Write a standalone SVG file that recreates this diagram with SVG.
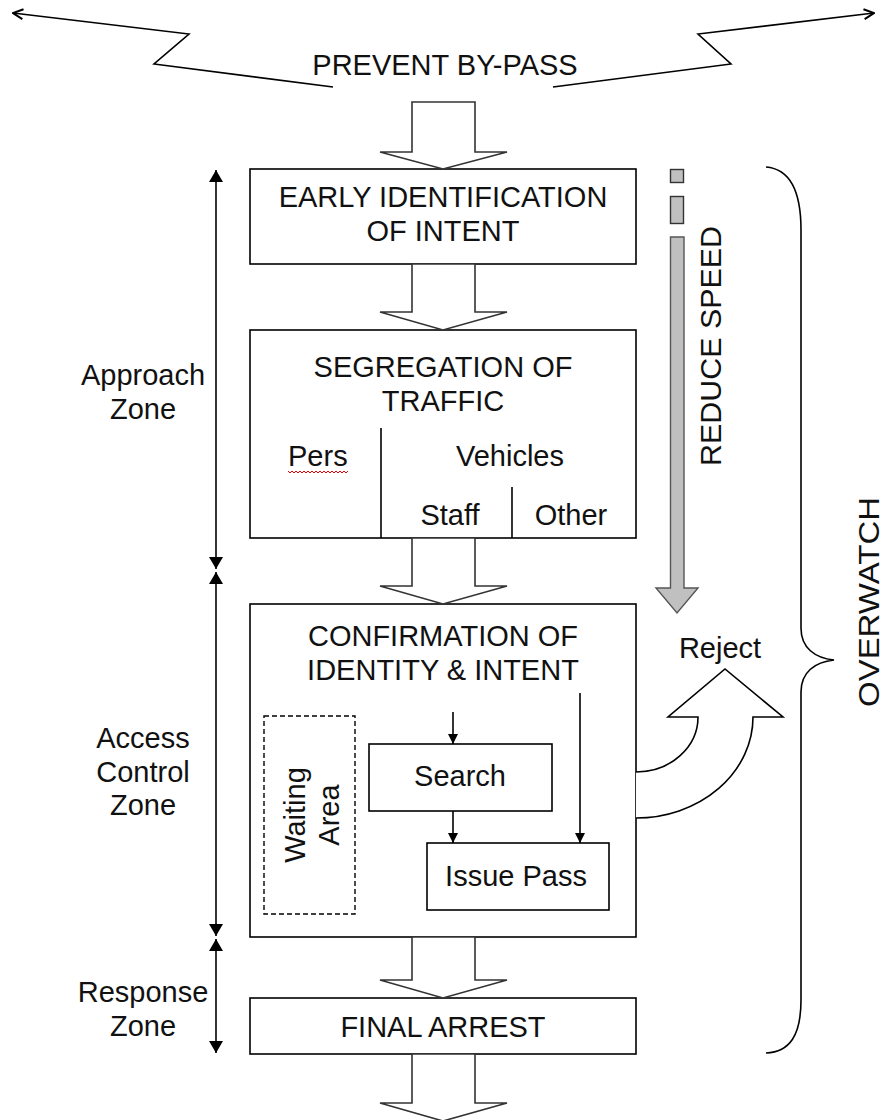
<svg xmlns="http://www.w3.org/2000/svg" width="885" height="1120" viewBox="0 0 885 1120">
<defs>
<style>
text{font-family:"Liberation Sans",Arial,sans-serif;font-size:29px;fill:#111}
.c{text-anchor:middle}
.box{fill:#fff;stroke:#000;stroke-width:1.6}
.blk{fill:#fff;stroke:#333;stroke-width:1.6;stroke-linejoin:miter}
.ln{fill:none;stroke:#000;stroke-width:1.6}
</style>
<marker id="tri" viewBox="0 0 12 14" refX="12" refY="7" markerWidth="12" markerHeight="14" markerUnits="userSpaceOnUse" orient="auto">
<path d="M0,0 L12,7 L0,14 Z" fill="#000"/>
</marker>
<marker id="sm" viewBox="0 0 10 10" refX="10" refY="5" markerWidth="10" markerHeight="10" markerUnits="userSpaceOnUse" orient="auto">
<path d="M0,0 L10,5 L0,10 Z" fill="#000"/>
</marker>
<marker id="open" viewBox="0 0 12 12" refX="11" refY="6" markerWidth="12" markerHeight="12" markerUnits="userSpaceOnUse" orient="auto">
<path d="M1,1 L11,6 L1,11" fill="none" stroke="#000" stroke-width="2"/>
</marker>
</defs>
<rect width="885" height="1120" fill="#fff"/>

<g id="prevent-bypass">
<polyline class="ln" points="333,87 154,64 189,34 13,13" marker-end="url(#open)"/>
<polyline class="ln" points="553,87 731,64 698,34 874,13" marker-end="url(#open)"/>
<text class="c" x="445" y="75">PREVENT BY-PASS</text>
</g>

<g id="early-identification">
<rect class="box" x="250" y="169" width="386" height="95"/>
<text class="c" x="443" y="207">EARLY IDENTIFICATION</text>
<text class="c" x="443" y="241">OF INTENT</text>
</g>

<g id="segregation">
<rect class="box" x="250" y="330" width="386" height="208"/>
<text class="c" x="443" y="377">SEGREGATION OF</text>
<text class="c" x="443" y="411">TRAFFIC</text>
<line class="ln" x1="381" y1="428" x2="381" y2="538"/>
<line class="ln" x1="512" y1="487" x2="512" y2="538"/>
<text x="288" y="466">Pers</text>
<path d="M288,471 l2,2 l2,-2 l2,2 l2,-2 l2,2 l2,-2 l2,2 l2,-2 l2,2 l2,-2 l2,2 l2,-2 l2,2 l2,-2 l2,2 l2,-2 l2,2 l2,-2 l2,2 l2,-2 l2,2 l2,-2 l2,2 l2,-2 l2,2 l2,-2 l2,2 l2,-2 l2,2 l2,-2" fill="none" stroke="#e00" stroke-width="1"/>
<text class="c" x="510" y="466">Vehicles</text>
<text class="c" x="450" y="525">Staff</text>
<text class="c" x="571" y="525">Other</text>
</g>

<g id="confirmation">
<rect class="box" x="250" y="604" width="386" height="333"/>
<text class="c" x="443" y="646">CONFIRMATION OF</text>
<text class="c" x="443" y="680">IDENTITY &amp; INTENT</text>
</g>

<g id="waiting-area">
<rect x="264" y="716" width="91" height="198" fill="#fff" stroke="#000" stroke-width="1.4" stroke-dasharray="5,3"/>
<text class="c" transform="translate(305,815) rotate(-90)">Waiting</text>
<text class="c" transform="translate(339,815) rotate(-90)">Area</text>
</g>

<g id="search">
<rect class="box" x="369" y="744" width="183" height="67"/>
<text class="c" x="460" y="786">Search</text>
</g>

<g id="issue-pass">
<rect class="box" x="427" y="843" width="182" height="67"/>
<text class="c" x="516" y="886">Issue Pass</text>
</g>

<g id="final-arrest">
<rect class="box" x="250" y="998" width="386" height="56"/>
<text class="c" x="443" y="1037">FINAL ARREST</text>
</g>

<g id="zone-labels">
<text class="c" x="143" y="385">Approach</text>
<text class="c" x="143" y="419">Zone</text>
<text class="c" x="143" y="748">Access</text>
<text class="c" x="143" y="782">Control</text>
<text class="c" x="143" y="815">Zone</text>
<text class="c" x="143" y="1002">Response</text>
<text class="c" x="143" y="1036">Zone</text>
</g>

<g id="reduce-speed">
<rect x="670.5" y="169.5" width="13" height="13" fill="#c0c0c0" stroke="#333" stroke-width="1.4"/>
<rect x="670.5" y="196.5" width="13" height="27" fill="#c0c0c0" stroke="#333" stroke-width="1.4"/>
<path d="M670.5,237 H684 V588 H698 L677,613 L656,588 H670.5 Z" fill="#c0c0c0" stroke="#555" stroke-width="1.4"/>
<text class="c" transform="translate(721,346) rotate(-90)" textLength="240" lengthAdjust="spacingAndGlyphs">REDUCE SPEED</text>
</g>

<g id="reject">
<path d="M636,772 A62,55 0 0 0 698,717 H668 L725,669 L783,717 H753 A117,101 0 0 1 636,818" fill="#fff" stroke="#000" stroke-width="1.6"/>
<text class="c" x="720" y="658">Reject</text>
</g>

<g id="overwatch">
<path class="ln" d="M766,167 C790,169 801,190 801,230 L801,628 C801,648 815,658 834,660 C815,662 801,672 801,692 L801,1000 C801,1035 790,1052 766,1053"/>
<text class="c" transform="translate(879,602) rotate(-90)" textLength="210" lengthAdjust="spacingAndGlyphs">OVERWATCH</text>
</g>

<g id="connectors">
<path class="blk" d="M412,102 H475 V152 H507 L443,169 L380,152 H412 Z"/>
<path class="blk" d="M412,264 H475 V312 H507 L443,330 L380,312 H412 Z"/>
<path class="blk" d="M412,538 H475 V586 H507 L443,604 L380,586 H412 Z"/>
<path class="blk" d="M412,937 H475 V980 H507 L443,998 L380,980 H412 Z"/>
<path class="blk" d="M412,1054 H475 V1103 H507 L443,1121 L380,1103 H412 Z"/>
<line class="ln" x1="216" y1="370" x2="216" y2="170" marker-end="url(#tri)"/>
<line class="ln" x1="216" y1="370" x2="216" y2="569" marker-end="url(#tri)"/>
<line class="ln" x1="216" y1="750" x2="216" y2="572" marker-end="url(#tri)"/>
<line class="ln" x1="216" y1="750" x2="216" y2="936" marker-end="url(#tri)"/>
<line class="ln" x1="216" y1="1000" x2="216" y2="939" marker-end="url(#tri)"/>
<line class="ln" x1="216" y1="1000" x2="216" y2="1053" marker-end="url(#tri)"/>
<line class="ln" x1="453" y1="712" x2="453" y2="744" marker-end="url(#sm)"/>
<line class="ln" x1="453" y1="811" x2="453" y2="843" marker-end="url(#sm)"/>
<line class="ln" x1="580" y1="693" x2="580" y2="843" marker-end="url(#sm)"/>
</g>
</svg>
